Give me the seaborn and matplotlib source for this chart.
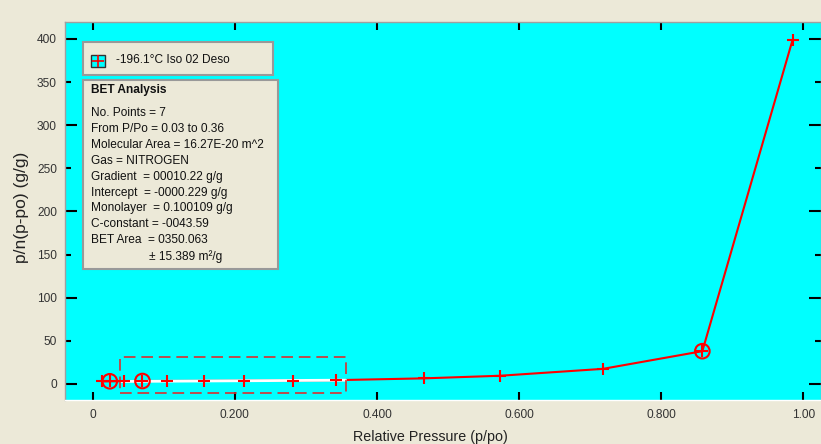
import matplotlib
matplotlib.use("Agg")
import matplotlib.pyplot as plt
import seaborn as sns
import pandas as pd
from matplotlib.patches import Rectangle
from matplotlib.lines import Line2D
from matplotlib.ticker import MultipleLocator, FormatStrFormatter, FixedLocator, FixedFormatter

# --- data ---
rel_pressure = [0.013, 0.024, 0.044, 0.070, 0.104, 0.156, 0.213, 0.282, 0.342,
                0.466, 0.573, 0.718, 0.858, 0.985]
bet_value = [3.0, 3.1, 3.2, 3.4, 3.5, 3.6, 3.8, 4.0, 4.4,
             6.5, 9.5, 17.5, 38.0, 399.0]
circled_idx = [1, 3, 12]               # points marked with a circle
fit_x = [0.039, 0.356]                  # BET fit line (white)
fit_y = [2.9, 4.4]
range_x = [0.039, 0.356]                # dashed selection box
range_y = [-10.4, 31.3]

x_ticks = [0, 0.2, 0.4, 0.6, 0.8, 1.0]
x_tick_labels = ["0", "0.200", "0.400", "0.600", "0.800", "1.00"]
series_label = "-196.1°C Iso 02 Deso"
bet_title = "BET Analysis"
bet_lines = [
    "No. Points = 7",
    "From P/Po = 0.03 to 0.36",
    "Molecular Area = 16.27E-20 m^2",
    "Gas = NITROGEN",
    "Gradient  = 00010.22 g/g",
    "Intercept  = -0000.229 g/g",
    "Monolayer  = 0.100109 g/g",
    "C-constant = -0043.59",
    "BET Area  = 0350.063",
]
bet_last = "± 15.389 m²/g"

df = pd.DataFrame({"p": rel_pressure, "v": bet_value})
df_circ = df.iloc[circled_idx]

# --- style ---
sns.set_theme(style="ticks")
plt.rcParams['font.family'] = ['Liberation Sans', 'DejaVu Sans']
bg = "#ECE9D8"
W, H = 821, 444

fig = plt.figure(figsize=(W / 100, H / 100), dpi=100, facecolor=bg)
ax = fig.add_axes([65 / W, 44 / H, 756 / W, 378 / H])
ax.set_facecolor("#00FFFF")

# main curve, fit line, markers
sns.lineplot(data=df, x="p", y="v", ax=ax, color="red", linewidth=1.5,
             sort=False, estimator=None, zorder=2)
sns.lineplot(x=fit_x, y=fit_y, ax=ax, color="white", linewidth=2.0, zorder=3)
sns.scatterplot(data=df, x="p", y="v", ax=ax, marker="+", s=80, color="red",
                linewidth=1.5, zorder=4)
ax.scatter(df_circ["p"], df_circ["v"], s=110, facecolors="none",
           edgecolors="red", linewidths=1.5, zorder=5)

ax.add_patch(Rectangle((range_x[0], range_y[0]), range_x[1] - range_x[0],
                       range_y[1] - range_y[0], fill=False, edgecolor="#d83030",
                       linewidth=1.2, linestyle=(0, (7, 3.5)), zorder=3))

ax.set_xlim(-0.039, 1.025)
ax.set_ylim(-18.6, 419.7)

# ticks
ax.xaxis.set_major_locator(FixedLocator(x_ticks))
ax.xaxis.set_major_formatter(FixedFormatter(x_tick_labels))
ax.yaxis.set_major_locator(MultipleLocator(100))
ax.yaxis.set_minor_locator(MultipleLocator(50))
ax.yaxis.set_major_formatter(FormatStrFormatter("%d"))
ax.yaxis.set_minor_formatter(FormatStrFormatter("%d"))
ax.tick_params(axis="x", which="major", direction="in", length=5.8, width=1.5,
               top=True, labelsize=8.6, labelcolor="#333333", pad=6.5, color="black")
ax.tick_params(axis="y", which="major", direction="in", length=8.6, width=1.5,
               right=True, labelsize=8.6, labelcolor="#333333", pad=5.8, color="black")
ax.tick_params(axis="y", which="minor", direction="in", length=4.3, width=1.5,
               right=True, labelsize=8.6, labelcolor="#333333", pad=5.8, color="black")

for s in ax.spines.values():
    s.set_color("#a0a0a0")
    s.set_linewidth(1.0)
ax.spines["bottom"].set_color("white")

ax.set_xlabel("Relative Pressure (p/po)", fontsize=10.3, color="#222222")
ax.set_ylabel("p/n(p-po) (g/g)", fontsize=12.5, color="#222222")
ax.xaxis.set_label_coords(0.483, -0.079)
ax.yaxis.set_label_coords(-0.047, 0.51)


def fx(px):
    return px / W


def fy(py):
    return 1 - py / H


# legend box with series
fig.add_artist(Rectangle((fx(83), fy(75)), 190 / W, 33 / H, transform=fig.transFigure,
                         facecolor=bg, edgecolor="#999999", linewidth=1.5, zorder=10))
fig.add_artist(Rectangle((fx(91), fy(67)), 14 / W, 12 / H, transform=fig.transFigure,
                         facecolor="#00FFFF", edgecolor="#333333", linewidth=1.0, zorder=11))
fig.add_artist(Line2D([fx(98)], [fy(61)], marker="+", markersize=8, markeredgewidth=1.2,
                      color="red", transform=fig.transFigure, zorder=12))
fig.text(fx(116), fy(60), series_label, fontsize=8.6, va="center", ha="left",
         color="#111111", zorder=12)

# BET analysis box
fig.add_artist(Rectangle((fx(83), fy(269)), 195 / W, 189 / H, transform=fig.transFigure,
                         facecolor=bg, edgecolor="#999999", linewidth=1.5, zorder=10))
fig.text(fx(91), fy(90), bet_title, fontsize=8.6, fontweight="bold", va="center",
         ha="left", color="#111111", zorder=12)
for i, line in enumerate(bet_lines):
    fig.text(fx(91), fy(113 + 15.9 * i), line, fontsize=8.6, va="center", ha="left",
             color="#111111", zorder=12)
fig.text(fx(149), fy(113 + 15.9 * len(bet_lines)), bet_last, fontsize=8.6,
         va="center", ha="left", color="#111111", zorder=12)

fig.savefig("out.png", dpi=100, facecolor=bg)
